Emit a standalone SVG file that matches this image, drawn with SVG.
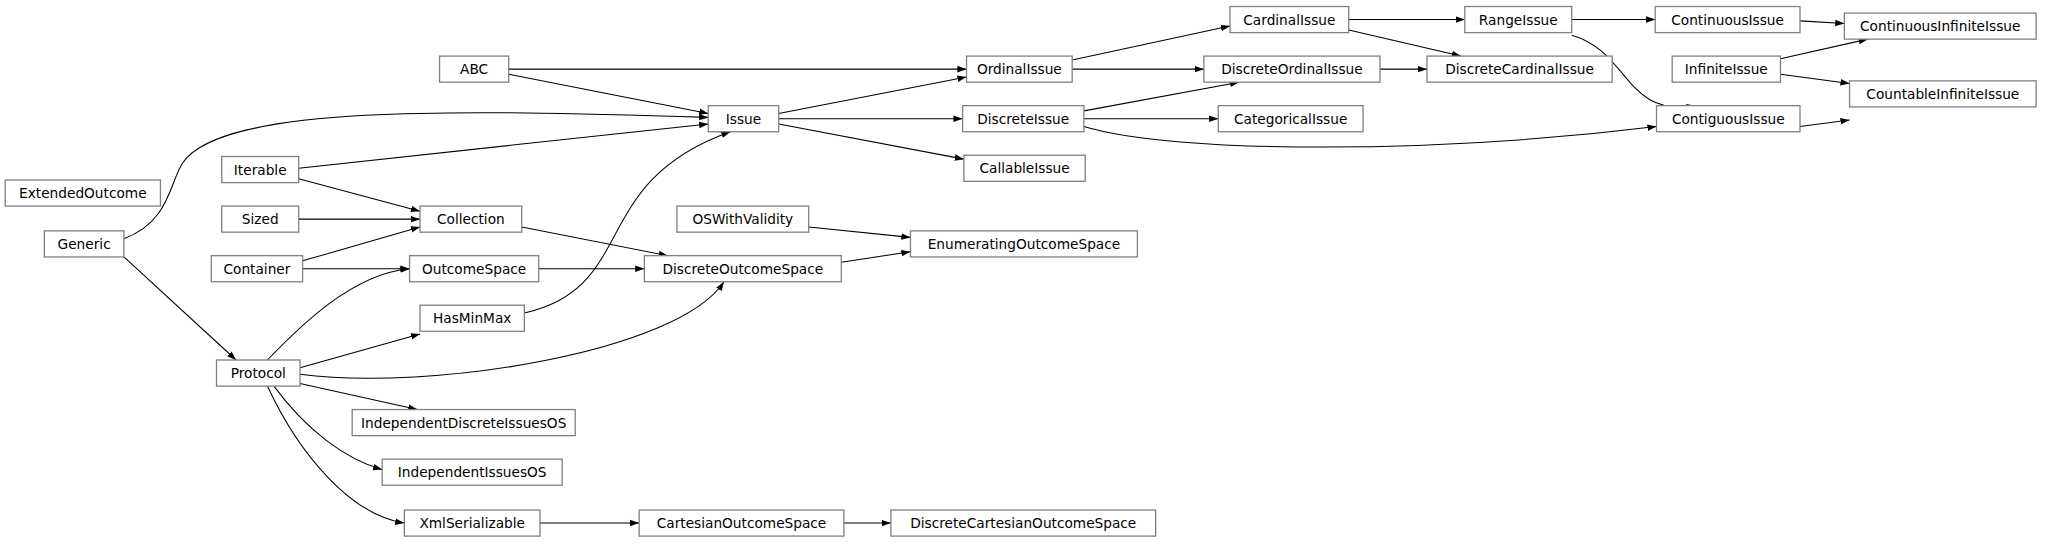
<svg xmlns="http://www.w3.org/2000/svg" width="2045" height="544" viewBox="0 0 2045 544">
<style>
.n rect{fill:#fff;stroke:#808080;stroke-width:1}
.n text{font-family:"DejaVu Sans",sans-serif;font-size:10.5px;fill:#000;text-anchor:middle;dominant-baseline:central}
.e path{fill:none;stroke:#000;stroke-width:0.8;marker-end:url(#a)}
</style>
<defs><marker id="a" markerUnits="userSpaceOnUse" markerWidth="8" markerHeight="6" refX="7" refY="3" orient="auto"><path d="M0,0.5 L7,3 L0,5.5 Z" fill="#000"/></marker></defs>
<rect width="2045" height="544" fill="#fff"/>
<g transform="scale(1.30435)">
<g class="e">
<path d="M390,53 L741,53"/>
<path d="M390,57 L543,87"/>
<path d="M822,46 L943,20"/>
<path d="M822,53 L923,53"/>
<path d="M1034,15 L1123,15"/>
<path d="M1034,23 L1120,43"/>
<path d="M1058,53 L1094,53"/>
<path d="M1205,15 L1269,15"/>
<path d="M1205,27 C1250,40 1245,90 1300,81"/>
<path d="M1380,16 L1414,18"/>
<path d="M1365,45 L1432,30"/>
<path d="M1365,57 L1418,64"/>
<path d="M1380,97 L1418,92"/>
<path d="M597,87 L741,59"/>
<path d="M597,91 L738,91"/>
<path d="M597,95 L739,122"/>
<path d="M831,85 L950,63"/>
<path d="M831,91 L934,91"/>
<path d="M831,97 C900,118 1100,118 1270,97"/>
<path d="M95,183 C130,170 130,140 140,125 C170,80 350,84 543,90"/>
<path d="M95,197 L181,276"/>
<path d="M229,129 L543,95"/>
<path d="M229,137 L322,162"/>
<path d="M229,168 L322,168"/>
<path d="M232,200 L322,174"/>
<path d="M232,206 L314,206"/>
<path d="M400,174 L512,196"/>
<path d="M413,206 L494,206"/>
<path d="M645,201 L698,193"/>
<path d="M620,174 L698,182"/>
<path d="M402,240 C490,220 450,140 560,101"/>
<path d="M205,276 C230,250 270,210 314,206"/>
<path d="M230,282 L322,256"/>
<path d="M230,287 C330,300 520,270 555,216"/>
<path d="M230,294 L320,314"/>
<path d="M210,296 C235,330 265,352 293,360"/>
<path d="M205,296 C230,350 270,395 310,401"/>
<path d="M414,401 L490,401"/>
<path d="M647,401 L683,401"/>
</g>
<g class="n" id="ABC"><rect x="337" y="43" width="53" height="20"/><text x="363.5" y="53">ABC</text></g>
<g class="n" id="OrdinalIssue"><rect x="741" y="43" width="81" height="20"/><text x="781.5" y="53">OrdinalIssue</text></g>
<g class="n" id="CardinalIssue"><rect x="943" y="5" width="91" height="20"/><text x="988.5" y="15">CardinalIssue</text></g>
<g class="n" id="RangeIssue"><rect x="1123" y="5" width="82" height="20"/><text x="1164" y="15">RangeIssue</text></g>
<g class="n" id="ContinuousIssue"><rect x="1269" y="5" width="111" height="20"/><text x="1324.5" y="15">ContinuousIssue</text></g>
<g class="n" id="ContinuousInfiniteIssue"><rect x="1414" y="10" width="147" height="20"/><text x="1487.5" y="20">ContinuousInfiniteIssue</text></g>
<g class="n" id="InfiniteIssue"><rect x="1282" y="43" width="83" height="20"/><text x="1323.5" y="53">InfiniteIssue</text></g>
<g class="n" id="CountableInfiniteIssue"><rect x="1418" y="62" width="143" height="20"/><text x="1489.5" y="72">CountableInfiniteIssue</text></g>
<g class="n" id="ContiguousIssue"><rect x="1270" y="81" width="110" height="20"/><text x="1325" y="91">ContiguousIssue</text></g>
<g class="n" id="DiscreteOrdinalIssue"><rect x="923" y="43" width="135" height="20"/><text x="990.5" y="53">DiscreteOrdinalIssue</text></g>
<g class="n" id="DiscreteCardinalIssue"><rect x="1094" y="43" width="142" height="20"/><text x="1165" y="53">DiscreteCardinalIssue</text></g>
<g class="n" id="Issue"><rect x="543" y="81" width="54" height="20"/><text x="570" y="91">Issue</text></g>
<g class="n" id="DiscreteIssue"><rect x="738" y="81" width="93" height="20"/><text x="784.5" y="91">DiscreteIssue</text></g>
<g class="n" id="CategoricalIssue"><rect x="934" y="81" width="111" height="20"/><text x="989.5" y="91">CategoricalIssue</text></g>
<g class="n" id="CallableIssue"><rect x="739" y="119" width="93" height="20"/><text x="785.5" y="129">CallableIssue</text></g>
<g class="n" id="ExtendedOutcome"><rect x="4" y="138" width="119" height="20"/><text x="63.5" y="148">ExtendedOutcome</text></g>
<g class="n" id="Iterable"><rect x="170" y="120" width="59" height="20"/><text x="199.5" y="130">Iterable</text></g>
<g class="n" id="Sized"><rect x="170" y="158" width="59" height="20"/><text x="199.5" y="168">Sized</text></g>
<g class="n" id="Collection"><rect x="322" y="158" width="78" height="20"/><text x="361" y="168">Collection</text></g>
<g class="n" id="Generic"><rect x="34" y="177" width="61" height="20"/><text x="64.5" y="187">Generic</text></g>
<g class="n" id="OSWithValidity"><rect x="519" y="158" width="101" height="20"/><text x="569.5" y="168">OSWithValidity</text></g>
<g class="n" id="EnumeratingOutcomeSpace"><rect x="698" y="177" width="174" height="20"/><text x="785" y="187">EnumeratingOutcomeSpace</text></g>
<g class="n" id="Container"><rect x="162" y="196" width="70" height="20"/><text x="197" y="206">Container</text></g>
<g class="n" id="OutcomeSpace"><rect x="314" y="196" width="99" height="20"/><text x="363.5" y="206">OutcomeSpace</text></g>
<g class="n" id="DiscreteOutcomeSpace"><rect x="494" y="196" width="151" height="20"/><text x="569.5" y="206">DiscreteOutcomeSpace</text></g>
<g class="n" id="HasMinMax"><rect x="322" y="234" width="80" height="20"/><text x="362" y="244">HasMinMax</text></g>
<g class="n" id="Protocol"><rect x="166" y="276" width="64" height="20"/><text x="198" y="286">Protocol</text></g>
<g class="n" id="IndependentDiscreteIssuesOS"><rect x="270" y="314" width="171" height="20"/><text x="355.5" y="324">IndependentDiscreteIssuesOS</text></g>
<g class="n" id="IndependentIssuesOS"><rect x="293" y="352" width="138" height="20"/><text x="362" y="362">IndependentIssuesOS</text></g>
<g class="n" id="XmlSerializable"><rect x="310" y="391" width="104" height="20"/><text x="362" y="401">XmlSerializable</text></g>
<g class="n" id="CartesianOutcomeSpace"><rect x="490" y="391" width="157" height="20"/><text x="568.5" y="401">CartesianOutcomeSpace</text></g>
<g class="n" id="DiscreteCartesianOutcomeSpace"><rect x="683" y="391" width="203" height="20"/><text x="784.5" y="401">DiscreteCartesianOutcomeSpace</text></g>
</g>
</svg>
